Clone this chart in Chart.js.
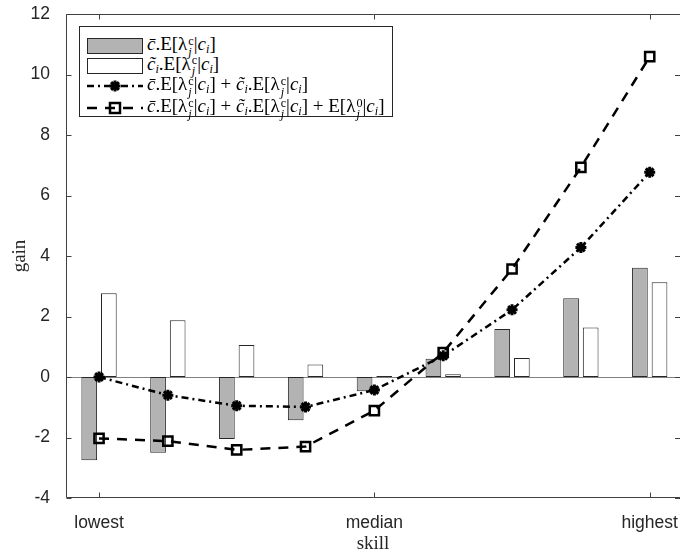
<!DOCTYPE html>
<html>
<head>
<meta charset="utf-8">
<script src="https://cdn.jsdelivr.net/npm/chart.js@4.4.1/dist/chart.umd.min.js"></script>
<style>
  html, body { margin: 0; padding: 0; background: #fff; }
  #wrap { position: relative; width: 680px; height: 556px; overflow: hidden; }
  #legend {
    position: absolute; left: 79px; top: 26px; width: 312px; height: 89px;
    border: 1px solid #262626; background: #fff;
    font-family: "Liberation Serif", "DejaVu Serif", serif; font-size: 19px; color: #000;
  }
  .row { position: absolute; left: 0; height: 20px; display: flex; align-items: center; white-space: nowrap; line-height: 1; }
  .row svg { margin-left: 7px; margin-right: 4px; flex: none; }
  .ss { display: inline-block; vertical-align: -0.42em; font-size: 0.64em; line-height: 0.9; margin-left: 1px; text-align: left; }
  .ss span { display: block; }
  sub { font-size: 0.64em; vertical-align: -0.28em; line-height: 0; }
</style>
</head>
<body>
<div id="wrap">
  <canvas id="chart" width="680" height="556"></canvas>
  <div id="legend"></div>
</div>
<script>
// skill levels (x positions) and the labelled ticks
var skill = [1, 2, 3, 4, 5, 6, 7, 8, 9];
var tickPos = [1, 5, 9];
var tickNames = ["lowest", "median", "highest"];

// values
var avgTerm = [-2.75, -2.5, -2.05, -1.43, -0.47, 0.6, 1.59, 2.6, 3.61];     // c̄.E[λ|c]
var indTerm = [2.77, 1.88, 1.06, 0.41, 0.03, 0.09, 0.63, 1.64, 3.13];        // c̃i.E[λ|c]
var sumTerm = [0.0, -0.6, -0.95, -0.99, -0.43, 0.7, 2.22, 4.28, 6.77];       // sum of both
var totalGain = [-2.03, -2.12, -2.41, -2.3, -1.11, 0.81, 3.57, 6.93, 10.59]; // plus E[λ0|c]

var seriesNames = [
    "c̄.E[λjc|ci]",
    "c̃i.E[λjc|ci]",
    "c̄.E[λjc|ci] + c̃i.E[λjc|ci]",
    "c̄.E[λjc|ci] + c̃i.E[λjc|ci] + E[λj0|ci]"
];

// legend, written as html so the scripts can stack
var lam = function (sup) {
    return 'λ<span class="ss"><span>' + sup + '</span><span><i>j</i></span></span>';
};
var cbar = '<i>c&#772;</i>';
var ctil = '<i>c&#771;</i><sub><i>i</i></sub>';
var given = '|<i>c</i><sub><i>i</i></sub>]';
var legendRows = [
    { icon: '<rect x="0.5" y="0.5" width="55" height="15" fill="#b3b3b3" stroke="#262626"/>', h: 16,
      text: cbar + '.E[' + lam('c') + given },
    { icon: '<rect x="0.5" y="0.5" width="55" height="15" fill="#fff" stroke="#262626"/>', h: 16,
      text: ctil + '.E[' + lam('c') + given },
    { icon: '<line x1="0" y1="7" x2="56" y2="7" stroke="#000" stroke-width="2.5" stroke-dasharray="7 4 2 4"/>' +
            '<path d="M22.5 7H33.5M28 1.5V12.5M24.1 3.1L31.9 10.9M31.9 3.1L24.1 10.9" stroke="#000" stroke-width="3"/>', h: 14,
      text: cbar + '.E[' + lam('c') + given + ' + ' + ctil + '.E[' + lam('c') + given },
    { icon: '<line x1="0" y1="7" x2="56" y2="7" stroke="#000" stroke-width="2.5" stroke-dasharray="10 8"/>' +
            '<rect x="23" y="2" width="10" height="10" fill="none" stroke="#000" stroke-width="2.5"/>', h: 14,
      text: cbar + '.E[' + lam('c') + given + ' + ' + ctil + '.E[' + lam('c') + given + ' + E[' + lam('0') + given }
];
var rowCenters = [19, 38.5, 59, 81];
var legendEl = document.getElementById('legend');
legendRows.forEach(function (r, i) {
    var div = document.createElement('div');
    div.className = 'row';
    div.style.top = (rowCenters[i] - 10) + 'px';
    div.innerHTML = '<svg width="56" height="' + r.h + '">' + r.icon + '</svg><span>' + r.text + '</span>';
    legendEl.appendChild(div);
});

// box, inward ticks and bar baseline, matlab style
var axesBox = {
    id: 'axesBox',
    beforeDatasetsDraw: function (chart) {
        var ctx = chart.ctx, a = chart.chartArea;
        var y0 = Math.round(chart.scales.y.getPixelForValue(0)) + 0.5;
        ctx.save();
        ctx.strokeStyle = '#808080';
        ctx.lineWidth = 1;
        ctx.beginPath();
        ctx.moveTo(a.left, y0);
        ctx.lineTo(a.right, y0);
        ctx.stroke();
        ctx.restore();
    },
    afterDraw: function (chart) {
        var ctx = chart.ctx, a = chart.chartArea;
        var xs = chart.scales.x, ys = chart.scales.y;
        var L = Math.round(a.left) + 0.5, T = Math.round(a.top) + 0.5;
        var B = Math.round(a.bottom) - 0.5, R = a.right;
        ctx.save();
        ctx.strokeStyle = '#404040';
        ctx.lineWidth = 1;
        ctx.beginPath();
        ctx.moveTo(R, T); ctx.lineTo(L, T); ctx.lineTo(L, B); ctx.lineTo(R, B);
        ys.ticks.forEach(function (t) {
            var p = Math.round(ys.getPixelForValue(t.value)) + 0.5;
            ctx.moveTo(L, p); ctx.lineTo(L + 5, p);
            ctx.moveTo(R, p); ctx.lineTo(R - 5, p);
        });
        xs.ticks.forEach(function (t) {
            var p = Math.round(xs.getPixelForValue(t.value)) + 0.5;
            ctx.moveTo(p, B); ctx.lineTo(p, B - 5);
            ctx.moveTo(p, T); ctx.lineTo(p, T + 5);
        });
        ctx.stroke();
        ctx.restore();
    }
};

var pts = function (vals) {
    return skill.map(function (s, i) { return { x: s, y: vals[i] }; });
};

var sansFont = '"Liberation Sans", Arial, Helvetica, sans-serif';
var serifFont = '"Liberation Serif", "DejaVu Serif", serif';

new Chart(document.getElementById('chart').getContext('2d'), {
    type: 'bar',
    data: {
        datasets: [{
            type: 'line',
            label: seriesNames[2],
            data: pts(sumTerm),
            borderColor: '#000',
            borderWidth: 2.5,
            borderDash: [7, 4, 2, 4],
            pointStyle: 'star',
            pointRadius: 5.5,
            pointBorderWidth: 3,
            pointBorderColor: '#000',
            pointBackgroundColor: '#000',
            fill: false,
            tension: 0,
            order: 1
        }, {
            type: 'line',
            label: seriesNames[3],
            data: pts(totalGain),
            borderColor: '#000',
            borderWidth: 2.5,
            borderDash: [10, 8],
            pointStyle: 'rect',
            pointRadius: 6.5,
            pointBorderWidth: 2.5,
            pointBorderColor: '#000',
            pointBackgroundColor: 'rgba(0,0,0,0)',
            fill: false,
            tension: 0,
            order: 1
        }, {
            label: seriesNames[0],
            data: pts(avgTerm),
            backgroundColor: '#b3b3b3',
            borderColor: '#262626',
            borderWidth: 1,
            borderSkipped: false,
            categoryPercentage: 0.57,
            barPercentage: 0.8,
            order: 2
        }, {
            label: seriesNames[1],
            data: pts(indTerm),
            backgroundColor: '#ffffff',
            borderColor: '#262626',
            borderWidth: 1,
            borderSkipped: false,
            categoryPercentage: 0.57,
            barPercentage: 0.8,
            order: 2
        }]
    },
    options: {
        responsive: false,
        animation: false,
        layout: { autoPadding: false, padding: { top: 14, right: 0, left: 0, bottom: 0 } },
        plugins: { legend: { display: false }, tooltip: { enabled: false } },
        scales: {
            x: {
                type: 'linear',
                min: 0.52,
                max: 9.44,
                offset: false,
                grid: { display: false },
                border: { display: false },
                afterBuildTicks: function (s) {
                    s.ticks = tickPos.map(function (v) { return { value: v }; });
                },
                afterFit: function (s) { s.height = 58; s.paddingLeft = 0; s.paddingRight = 0; },
                ticks: {
                    autoSkip: false,
                    maxRotation: 0,
                    padding: 7,
                    color: '#262626',
                    font: { family: sansFont, size: 17.5 },
                    callback: function (v) { return tickNames[tickPos.indexOf(v)]; }
                },
                title: {
                    display: true,
                    text: 'skill',
                    color: '#262626',
                    font: { family: serifFont, size: 19 },
                    padding: { top: 0, bottom: 1 }
                }
            },
            y: {
                min: -4,
                max: 12,
                grid: { display: false },
                border: { display: false },
                afterFit: function (s) { s.width = 66; s.paddingTop = 0; s.paddingBottom = 0; },
                ticks: {
                    stepSize: 2,
                    padding: 8,
                    color: '#262626',
                    font: { family: sansFont, size: 17.5 }
                },
                title: {
                    display: true,
                    text: 'gain',
                    color: '#262626',
                    font: { family: serifFont, size: 19 },
                    padding: { top: 9, bottom: 0 }
                }
            }
        }
    },
    plugins: [axesBox]
});
</script>
</body>
</html>
